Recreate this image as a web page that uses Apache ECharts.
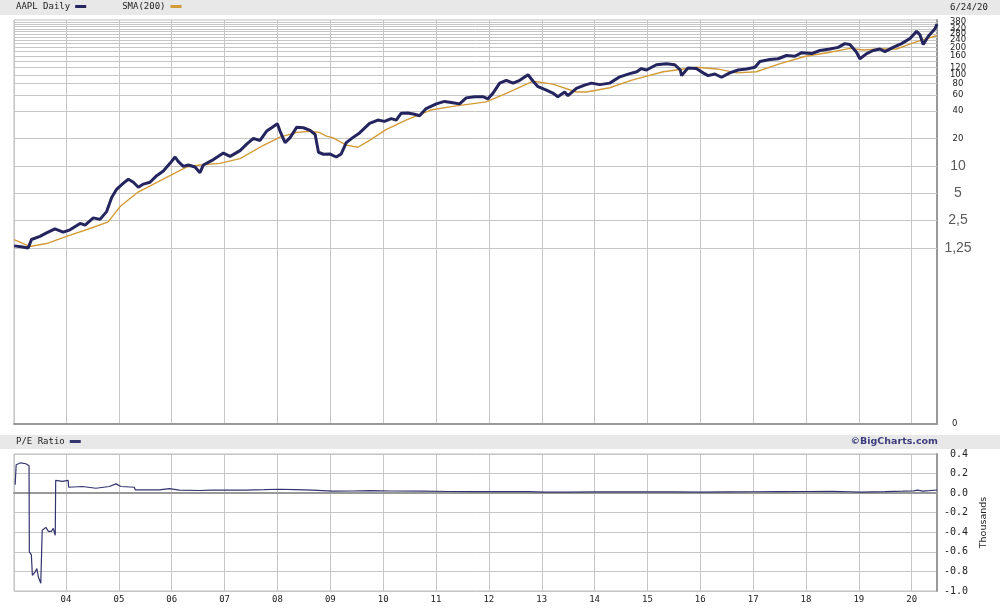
<!DOCTYPE html>
<html><head><meta charset="utf-8">
<script src="https://cdn.jsdelivr.net/npm/echarts@6/dist/echarts.min.js"></script>
<style>html,body{margin:0;padding:0;background:#fff}#c{width:1000px;height:608px}</style>
</head><body><div id="c"></div>
<script>
// ---- Data ----
const priceDates = ['2003-01-08','2003-02-25','2003-04-15','2003-04-25','2003-05-08','2003-07-05','2003-08-20','2003-10-17','2003-12-13',
 '2004-01-29','2004-04-08','2004-05-12','2004-07-08','2004-08-23','2004-10-08','2004-11-12','2004-12-16',
 '2005-02-01','2005-03-07','2005-04-11','2005-05-15','2005-06-19','2005-08-04','2005-09-19','2005-11-04','2005-12-20',
 '2006-01-24','2006-02-16','2006-03-22','2006-04-26','2006-06-11','2006-07-15','2006-07-24','2006-08-07','2006-10-16','2006-12-24',
 '2007-02-08','2007-04-18','2007-06-03','2007-07-19','2007-09-03','2007-10-19','2007-11-22',
 '2008-01-01','2008-01-19','2008-02-23','2008-03-29','2008-05-14','2008-06-29','2008-08-14','2008-09-18','2008-10-11','2008-11-14','2008-12-27',
 '2009-02-11','2009-03-17','2009-04-21','2009-06-05','2009-07-22','2009-09-29','2009-11-25',
 '2010-01-10','2010-02-26','2010-04-01','2010-05-05','2010-06-20','2010-08-06','2010-09-09','2010-10-25',
 '2011-01-03','2011-03-01','2011-04-27','2011-06-13','2011-07-29','2011-09-25','2011-11-21','2011-12-26',
 '2012-01-29','2012-03-16','2012-05-01','2012-06-16','2012-08-02','2012-09-28','2012-11-02','2012-12-06',
 '2013-02-02','2013-03-18','2013-04-22','2013-06-08','2013-07-01','2013-08-28','2013-10-24','2013-12-10',
 '2014-02-06','2014-04-16','2014-06-24','2014-09-01','2014-10-20','2014-11-20','2014-12-25',
 '2015-03-04','2015-05-12','2015-07-09','2015-08-16','2015-08-25','2015-10-08','2015-12-05',
 '2016-01-21','2016-02-24','2016-04-11','2016-05-27','2016-07-23','2016-09-19','2016-11-16',
 '2017-01-13','2017-02-16','2017-04-26','2017-06-22','2017-08-19','2017-10-16','2017-12-02',
 '2018-02-09','2018-04-07','2018-06-15','2018-08-11','2018-09-26','2018-10-31','2018-12-16',
 '2019-01-08','2019-02-24','2019-04-10','2019-05-26','2019-06-30','2019-08-26','2019-10-23','2019-12-20',
 '2020-02-04','2020-02-27','2020-03-21','2020-04-25','2020-06-10','2020-06-24'];
const priceValues = [1.32,1.29,1.25,1.2,1.55,1.68,1.83,2.03,1.87,
 1.98,2.33,2.23,2.68,2.58,3.14,4.49,5.52,
 6.45,7.12,6.6,5.82,6.3,6.6,7.8,8.76,10.65,
 12.5,11.1,9.85,10.2,9.7,8.4,8.0,10.2,11.7,13.8,
 12.7,14.7,17.3,20,19,24.1,26.2,
 29,24.1,18.0,20.4,26.6,26.2,24.5,22.1,14.1,13.4,13.5,
 12.5,13.5,18.0,20.4,23,29.2,31.8,
 30.8,33,31.8,37.7,38,36.9,35.5,42.6,
 47.9,51,49.3,47.9,55.8,57.5,57.5,54.5,
 62.5,80.9,87,81,87,100,85,74,
 68,63,57.5,64.7,59,71,77,81,
 78,81,95,103,108,117,113,
 129,132,129,113,98,119,117,
 105,98,102,94,105,113,116,
 121,140,147,150,163,160,175,
 171,185,192,200,220,215,177,
 150,171,185,192,180,200,220,250,
 300,275,215,265,320,360];

const smaDates = ['2003-01-08','2003-04-25','2003-08-20','2004-01-05','2004-06-20','2004-10-19','2004-11-24','2005-01-11','2005-05-10','2005-08-28','2005-12-20',
 '2006-04-13','2006-07-15','2006-11-29','2007-04-18','2007-09-03','2008-01-19','2008-05-14','2008-08-14','2008-10-16','2008-12-05',
 '2009-01-17','2009-04-21','2009-07-10','2009-09-29','2010-01-20','2010-06-16','2010-11-26','2011-04-27','2011-12-14',
 '2012-05-01','2012-11-02','2013-03-18','2013-08-28','2013-11-05','2014-04-16','2014-09-10','2015-04-20','2015-12-05',
 '2016-04-25','2016-09-13','2017-01-23','2017-07-01','2017-12-30','2018-06-15','2018-10-31','2019-02-01','2019-05-26','2019-09-18',
 '2020-01-06','2020-06-24'];
const smaValues = [1.55,1.3,1.4,1.68,2.06,2.42,2.87,3.6,5.1,6.3,7.8,
 9.7,10.2,10.65,12,16,20.7,23.3,24,23.3,21.2,
 20.4,16.9,16,19,25,32.2,41,45,50.4,
 62.5,85,79,64.7,64.7,72,87,108,121,
 116,105,108,132,160,177,195,187,192,192,
 223,270];

// P/E ratio, in thousands
const peDates = ['2003-01-15','2003-01-22','2003-02-23','2003-03-30','2003-04-21','2003-04-23','2003-05-07','2003-05-14','2003-05-31','2003-06-14','2003-06-25','2003-07-11','2003-07-18',
 '2003-07-21','2003-08-15','2003-09-02','2003-09-23','2003-10-05','2003-10-19','2003-10-22','2003-12-08','2004-01-16','2004-01-20',
 '2004-04-24','2004-07-26','2004-10-26','2004-12-12','2005-01-15','2005-04-17','2005-04-24','2005-10-07','2005-12-15','2006-02-23','2006-07-10',
 '2006-10-01','2007-01-15','2007-06-01','2007-10-01','2008-01-15','2008-05-01','2008-09-01','2009-01-15','2009-06-01','2009-10-01',
 '2010-03-01','2010-10-01','2011-04-01','2011-10-01','2012-04-01','2012-10-01','2013-01-20','2013-07-01','2014-01-01','2014-07-01',
 '2015-01-01','2015-07-01','2016-01-01','2016-07-01','2017-01-01','2017-07-01','2018-01-01','2018-07-01','2018-11-01','2019-01-15',
 '2019-07-01','2019-11-01','2020-01-15','2020-02-10','2020-03-20','2020-05-01','2020-06-24'];
const peValues = [0.085,0.29,0.31,0.30,0.28,-0.60,-0.63,-0.84,-0.81,-0.77,-0.86,-0.92,-0.93,
 -0.38,-0.35,-0.39,-0.39,-0.36,-0.43,0.13,0.12,0.13,0.06,
 0.068,0.05,0.068,0.095,0.068,0.06,0.034,0.034,0.047,0.03,0.027,
 0.03,0.032,0.03,0.035,0.04,0.035,0.03,0.02,0.022,0.025,
 0.022,0.02,0.017,0.015,0.016,0.015,0.011,0.01,0.012,0.013,
 0.014,0.013,0.011,0.012,0.014,0.016,0.017,0.018,0.014,0.011,
 0.015,0.02,0.024,0.03,0.02,0.025,0.032];

const xStart = '2003-01-07', xEnd = '2020-06-24';
const yearMs = 365 * 86400000;

const priceGridValues = [380,360,340,320,300,280,260,240,220,200,180,160,140,120,100,80,60,40,20,10,5,2.5,1.25];
const priceTickValues = [380,320,280,240,200,160,120,100,80,60,40,20,10,5,2.5,1.25];
const priceTickLabels = ['380','320','280','240','200','160','120','100','80','60','40','20','10','5','2,5','1,25'];
const priceMin = 0.01457, priceMax = 400;
const priceMinLabel = '0';
const peMin = -1.0, peMax = 0.4, peStep = 0.2;

// ---- Build chart ----
const zip = (d, v) => d.map((x, i) => [x, v[i]]);
const smallLbl = {fontFamily: 'DejaVu Sans', fontSize: 8.5, color: '#222'};
const bigLbl = {fontFamily: 'Liberation Sans', fontSize: 14, color: '#5a5a5a'};
const gridMarks = priceGridValues.map(v => {
  const i = priceTickValues.indexOf(v);
  const item = {yAxis: v};
  if (i >= 0) {
    item.label = Object.assign({show: true, position: 'end', distance: 21, align: 'center', verticalAlign: 'middle',
      formatter: priceTickLabels[i]}, v >= 20 ? smallLbl : bigLbl);
  } else {
    item.label = {show: false};
  }
  return item;
});

const chart = echarts.init(document.getElementById('c'), null, {renderer: 'canvas'});
const splitX = {show: true, lineStyle: {color: '#c6c6c6', width: 1}};
const timeAxisBase = {type: 'time', min: xStart, max: xEnd, minInterval: yearMs, maxInterval: yearMs + 2 * 86400000,
  axisLine: {show: true, lineStyle: {color: '#999', width: 2}}, axisTick: {show: false}, splitLine: splitX};
chart.setOption({
  animation: false,
  backgroundColor: '#fff',
  graphic: [
    {type: 'rect', shape: {x: 0, y: 0, width: 1000, height: 15}, style: {fill: '#e8e8e8'}, silent: true},
    {type: 'rect', shape: {x: 0, y: 435, width: 1000, height: 14}, style: {fill: '#e8e8e8'}, silent: true},
    {type: 'text', x: 950, y: 8, style: {text: '6/24/20', font: '9px "DejaVu Sans Mono"', fill: '#222', verticalAlign: 'middle'}},
    {type: 'text', x: 938, y: 442, style: {text: '©BigCharts.com', font: 'bold 9.5px "DejaVu Sans"', fill: '#3d3d7d', align: 'right', verticalAlign: 'middle'}}
  ],
  legend: [
    {data: ['AAPL Daily', 'SMA(200)'], left: 14, top: 0, padding: [2, 2], align: 'right', icon: 'rect', itemWidth: 11, itemHeight: 3,
     itemGap: 36, selectedMode: false, textStyle: {fontFamily: 'DejaVu Sans Mono', fontSize: 9, color: '#222'}},
    {data: ['P/E Ratio'], left: 14, top: 435, padding: [2, 2], align: 'right', icon: 'rect', itemWidth: 11, itemHeight: 3,
     selectedMode: false, textStyle: {fontFamily: 'DejaVu Sans Mono', fontSize: 9, color: '#222'}}
  ],
  grid: [
    {left: 14, right: 63, top: 20, height: 404, show: true, borderColor: '#bdbdbd', borderWidth: 1},
    {left: 14, right: 63, top: 454, height: 137, show: true, borderColor: '#bdbdbd', borderWidth: 1}
  ],
  xAxis: [
    Object.assign({gridIndex: 0, axisLabel: {show: false}}, timeAxisBase),
    Object.assign({gridIndex: 1, axisLabel: {show: true, showMinLabel: false, showMaxLabel: false, margin: 4,
       fontFamily: 'DejaVu Sans Mono', fontSize: 9, color: '#222', formatter: '{yy}'}}, timeAxisBase)
  ],
  yAxis: [
    {type: 'log', logBase: 2, gridIndex: 0, position: 'right', min: priceMin, max: priceMax,
     axisLine: {show: true, lineStyle: {color: '#999', width: 2}}, axisTick: {show: false},
     axisLabel: {show: true, showMinLabel: true, showMaxLabel: false, hideOverlap: false, margin: 15,
       fontFamily: 'DejaVu Sans', fontSize: 8.5, color: '#222',
       formatter: v => (Math.abs(v - priceMin) / priceMin < 0.02 ? priceMinLabel : '')},
     splitLine: {show: false}},
    {type: 'value', gridIndex: 1, position: 'right', min: peMin, max: peMax, interval: peStep,
     name: 'Thousands', nameLocation: 'middle', nameRotate: 90, nameGap: 42,
     nameTextStyle: {fontFamily: 'DejaVu Sans', fontSize: 9.5, color: '#222'},
     axisLine: {show: true, lineStyle: {color: '#999', width: 2}}, axisTick: {show: false},
     axisLabel: {margin: 31, align: 'right', fontFamily: 'DejaVu Sans Mono', fontSize: 10, color: '#222',
       formatter: v => (Math.abs(v) < 1e-9 ? 0 : v).toFixed(1)},
     splitLine: {show: true, lineStyle: {color: '#c6c6c6', width: 1}}}
  ],
  series: [
    {name: 'AAPL Daily', type: 'line', xAxisIndex: 0, yAxisIndex: 0, data: zip(priceDates, priceValues), showSymbol: false, z: 4,
     lineStyle: {color: '#24245e', width: 3}, itemStyle: {color: '#24245e'},
     markLine: {silent: true, z: 1, symbol: ['none', 'none'], animation: false,
       lineStyle: {color: '#c6c6c6', width: 1, type: 'solid'}, emphasis: {disabled: true}, data: gridMarks}},
    {name: 'SMA(200)', type: 'line', xAxisIndex: 0, yAxisIndex: 0, data: zip(smaDates, smaValues), showSymbol: false, z: 3,
     lineStyle: {color: '#d39b35', width: 1.4}, itemStyle: {color: '#d39b35'}},
    {name: 'P/E Ratio', type: 'line', xAxisIndex: 1, yAxisIndex: 1, data: zip(peDates, peValues), showSymbol: false, z: 3,
     lineStyle: {color: '#34346e', width: 1.2}, itemStyle: {color: '#34346e'}}
  ]
});
</script></body></html>
